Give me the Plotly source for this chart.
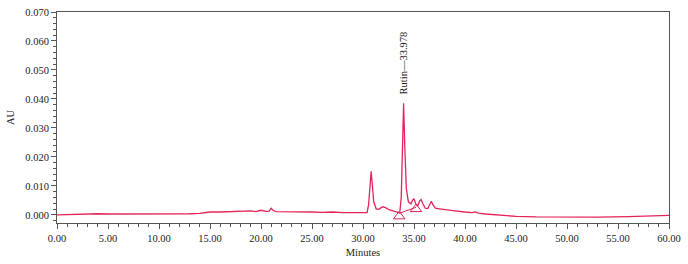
import plotly.graph_objects as go

# chromatogram trace (minutes, AU)
minutes = [0, 1, 2, 3, 4, 5, 6, 7, 8, 9, 10, 11, 12, 13, 14, 14.5, 15, 16, 17, 17.5,
           18, 18.5, 19, 19.5, 20, 20.5, 20.8, 21.0, 21.2, 21.5, 22, 23, 24, 25, 26, 27,
           28, 29, 29.5, 30, 30.4, 30.55, 30.7, 30.8, 30.9, 31.05, 31.3, 31.6, 31.9, 32.2,
           32.6, 33.0, 33.3, 33.6, 33.75, 33.85, 33.98, 34.1, 34.25, 34.45, 34.7, 34.85,
           35.0, 35.15, 35.35, 35.55, 35.7, 35.85, 36.1, 36.35, 36.55, 36.7, 36.85, 37.1,
           37.5, 38, 39, 40, 40.7, 41, 41.3, 42, 43, 44, 45, 47, 50, 53, 56, 58, 60]
au = [0.0000, 0.0001, 0.0002, 0.0004, 0.0004, 0.0003, 0.0003, 0.0003, 0.0002, 0.0003,
      0.0003, 0.0003, 0.0004, 0.0004, 0.0005, 0.0008, 0.0010, 0.0010, 0.0011, 0.0010,
      0.0013, 0.0011, 0.0014, 0.0011, 0.0016, 0.0012, 0.0013, 0.0023, 0.0015, 0.0011,
      0.0011, 0.0010, 0.0012, 0.0010, 0.0009, 0.0010, 0.0008, 0.0009, 0.0008, 0.0009,
      0.0008, 0.0035, 0.0125, 0.0150, 0.0110, 0.0045, 0.0020, 0.0020, 0.0028, 0.0025,
      0.0017, 0.0013, 0.0010, 0.0007, 0.0060, 0.0250, 0.0385, 0.0230, 0.0090, 0.0045,
      0.0038, 0.0050, 0.0056, 0.0040, 0.0030, 0.0048, 0.0053, 0.0040, 0.0023, 0.0022,
      0.0040, 0.0047, 0.0035, 0.0023, 0.0021, 0.0018, 0.0014, 0.0010, 0.0008, 0.0010,
      0.0006, 0.0003, 0.0000, -0.0003, -0.0005, -0.0007, -0.0008, -0.0008, -0.0006,
      -0.0004, -0.0002]

# integration start/end markers of the rutin peak
mark_x = [33.55, 35.2]
mark_y = [-0.0005, 0.0020]
base_x = [33.6, 35.2]
base_y = [0.0006, 0.0026]

peak_name = "Rutin"
peak_rt = 33.978
peak_au = 0.0385

red = "#e3245a"
serif = "Liberation Serif"

fig = go.Figure()
fig.add_trace(go.Scatter(x=minutes, y=au, mode="lines",
                         line=dict(color=red, width=1.3), hoverinfo="skip"))
fig.add_trace(go.Scatter(x=base_x, y=base_y, mode="lines",
                         line=dict(color=red, width=1)))
fig.add_trace(go.Scatter(x=mark_x, y=mark_y, mode="markers",
                         marker=dict(symbol="triangle-up-open", size=10,
                                     color=red, line=dict(width=1))))

fig.add_annotation(x=peak_rt, y=peak_au, text=f"{peak_name}—{peak_rt:.3f}",
                   showarrow=False, textangle=-90, yanchor="bottom", yshift=7,
                   font=dict(family=serif, size=10.5, color="#222"))

axis_common = dict(showgrid=False, zeroline=False, showline=True, linecolor="#555",
                   linewidth=1, mirror=True, ticks="outside", ticklen=5,
                   tickcolor="#555", automargin=False,
                   tickfont=dict(family=serif, size=10.5, color="#222"))

fig.update_xaxes(range=[0, 60], dtick=5, tickformat=".2f",
                 minor=dict(dtick=1, ticks="outside", ticklen=3, tickcolor="#555"),
                 title=dict(text="Minutes", font=dict(family=serif, size=10.5, color="#222"),
                            standoff=6),
                 **axis_common)
fig.update_yaxes(range=[-0.0028, 0.070], tick0=0, dtick=0.01, tickformat=".3f",
                 minor=dict(dtick=0.002, ticks="outside", ticklen=3, tickcolor="#555"),
                 title=dict(text="AU", font=dict(family=serif, size=10.5, color="#222"),
                            standoff=8),
                 **axis_common)

fig.update_layout(width=688, height=264, showlegend=False,
                  margin=dict(l=57, r=19, t=12, b=41),
                  plot_bgcolor="white", paper_bgcolor="white")

# drop the default page margin so the figure sits at the window's corner
fig.write_html("out.html", config={"displayModeBar": False},
               post_script="document.body.style.margin='0px';")
